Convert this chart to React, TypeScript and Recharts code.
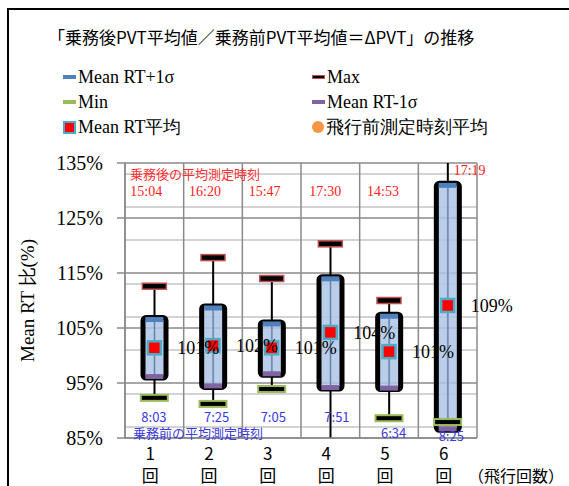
import React from 'react';
import {
  Bar,
  CartesianGrid,
  ComposedChart,
  LabelList,
  Line,
  ReferenceDot,
  XAxis,
  YAxis,
} from 'recharts';

// flight number (1..6 回)
const FLIGHTS = [1, 2, 3, 4, 5, 6];
const MAX_RT = [112.6, 117.8, 114.0, 120.3, 110.0, 140.0];
const PLUS_1SD = [106.9, 109.0, 106.1, 114.3, 107.5, 131.3];
const MEAN_RT = [101.4, 101.8, 101.4, 104.2, 100.7, 109.1];
const MINUS_1SD = [95.9, 94.2, 96.4, 93.9, 93.8, 86.4];
const MIN_RT = [92.3, 91.2, 93.9, 80.0, 88.6, 87.9];
const AFTER_TIMES = ['15:04', '16:20', '15:47', '17:30', '14:53', '17:19'];
const BEFORE_TIMES = ['8:03', '7:25', '7:05', '7:51', '6:34', '8:25'];

const Y_TICKS = [85, 95, 105, 115, 125, 135];
const MINOR_GRID = [87, 89, 91, 93, 97, 99, 101, 103, 107, 109, 111, 113, 117, 119, 121, 123, 127, 129, 131, 133];
const BOUNDARIES = [0.5, 1.5, 2.5, 3.5, 4.5, 5.5, 6.5];

// label nudges (px) so time labels sit like the original
const AFTER_NUDGE = [[-24, 33], [-24, 33], [-23, 33], [-21, 33], [-22, 33], [6, 12]];
const BEFORE_NUDGE = [[-13, -16], [-9, -16], [-11, -16], [-6, -16], [-8, 0], [-9, 3]];

const data = FLIGHTS.map((n, i) => ({
  n,
  max: MAX_RT[i],
  plus: PLUS_1SD[i],
  mean: MEAN_RT[i],
  minus: MINUS_1SD[i],
  min: MIN_RT[i],
}));

const SERIF = "'Liberation Serif', 'DejaVu Serif', serif";
const GOTHIC = "'Noto Sans CJK JP', 'Noto Sans', sans-serif";
const GRID_DARK = '#8a8a8a';

const BLUE = '#4f81bd';
const RED = '#c0504d';
const GREEN = '#9bbb59';
const PURPLE = '#8064a2';
const TEAL = '#4bacc6';
const ORANGE = '#f79646';

const LEGEND = [
  { name: 'Mean RT+1σ', icon: 'blue', col: 0, row: 0 },
  { name: 'Max', icon: 'max', col: 1, row: 0 },
  { name: 'Min', icon: 'min', col: 0, row: 1 },
  { name: 'Mean RT-1σ', icon: 'purple', col: 1, row: 1 },
  { name: 'Mean RT平均', icon: 'mean', col: 0, row: 2 },
  { name: '飛行前測定時刻平均', icon: 'orange', col: 1, row: 2 },
];

function LegendIcon({ kind }: { kind: string }) {
  if (kind === 'mean')
    return <span style={{ display: 'inline-block', width: 9, height: 9, background: '#ff0000', border: `2px solid ${TEAL}` }} />;
  if (kind === 'orange')
    return <span style={{ display: 'inline-block', width: 12, height: 12, borderRadius: 6, background: ORANGE }} />;
  const color = kind === 'blue' ? BLUE : kind === 'purple' ? PURPLE : kind === 'min' ? GREEN : RED;
  if (kind === 'max')
    return <span style={{ display: 'inline-block', width: 11, height: 2, background: '#000', border: `1px solid ${RED}` }} />;
  return <span style={{ display: 'inline-block', width: 13, height: 4, background: color }} />;
}

const Whisker = (p: any) => {
  const top = Math.min(p.y, p.y + p.height);
  const h = Math.abs(p.height);
  const cx = p.x + p.width / 2;
  return <line x1={cx} x2={cx} y1={top} y2={top + h} stroke="#000" strokeWidth={2} />;
};

const BoxShape = (p: any) => {
  const top = Math.min(p.y, p.y + p.height);
  const h = Math.abs(p.height);
  const cx = p.x + p.width / 2;
  return (
    <g>
      <rect x={p.x} y={top} width={p.width} height={h} rx={3} fill="#aec6e6" fillOpacity={0.85} stroke="#000" strokeWidth={5} />
      <line x1={cx} x2={cx} y1={top + 3} y2={top + h - 3} stroke="#5f82b0" strokeWidth={1} />
    </g>
  );
};

const barDot = (w: number, h: number, dy: number, fill: string, stroke?: string, sw = 0) => (p: any) => {
  if (p.cx == null || p.cy == null) return <g key={`d-${p.index}`} />;
  return (
    <rect
      key={`d-${p.index}`}
      x={p.cx - w / 2}
      y={p.cy + dy}
      width={w}
      height={h}
      fill={fill}
      stroke={stroke ?? 'none'}
      strokeWidth={sw}
    />
  );
};

const meanDot = (p: any) => (
  <rect key={`m-${p.index}`} x={p.cx - 6.5} y={p.cy - 6.5} width={13} height={13} fill="#ff0000" stroke={TEAL} strokeWidth={2.5} />
);

const XTick = (p: any) => (
  <text x={p.x - 4} textAnchor="middle" fontFamily={GOTHIC} fontSize={17} fill="#000">
    <tspan x={p.x - 4} y={p.y + 22}>{p.payload.value}</tspan>
    <tspan x={p.x - 4} y={p.y + 44}>回</tspan>
  </text>
);

const YTick = (p: any) => (
  <text x={p.x} y={p.y + 7} textAnchor="end" fontFamily={SERIF} fontSize={20} fill="#000">
    {`${p.payload.value}%`}
  </text>
);

const textLabel = (text: string, dx: number, dy: number, color: string, font: string, size: number) => ({
  content: (p: any) => (
    <text x={p.viewBox.x + dx} y={p.viewBox.y + dy} fill={color} fontFamily={font} fontSize={size} textAnchor="start">
      {text}
    </text>
  ),
});

export default function App() {
  return (
    <div style={{ position: 'relative', width: 569, height: 486, overflow: 'hidden', background: '#fff' }}>
      <style>{'body{margin:0}'}</style>
      <div
        style={{
          position: 'absolute',
          left: 7,
          top: 8,
          width: 700,
          height: 700,
          borderLeft: '2px solid #000',
          borderTop: '2px solid #000',
        }}
      />
      <div
        style={{
          position: 'absolute',
          left: 48,
          top: 27,
          lineHeight: '20px',
          fontFamily: GOTHIC,
          fontSize: 17,
          color: '#000',
          whiteSpace: 'nowrap',
        }}
      >
        「乗務後PVT平均値／乗務前PVT平均値＝ΔPVT」の推移
      </div>
      {LEGEND.map((it) => (
        <div
          key={it.name}
          style={{
            position: 'absolute',
            left: it.col === 0 ? 63 : 312,
            top: 65 + it.row * 25,
            height: 24,
            lineHeight: '24px',
            display: 'flex',
            alignItems: 'center',
            gap: 2,
            fontFamily: SERIF,
            fontSize: 18,
            whiteSpace: 'nowrap',
          }}
        >
          <LegendIcon kind={it.icon} />
          <span>{it.name}</span>
        </div>
      ))}
      <div style={{ position: 'absolute', left: 0, top: 0 }}>
        <ComposedChart width={569} height={486} data={data} margin={{ top: 163, right: 92, bottom: 0, left: 0 }}>
          <CartesianGrid xAxisId="a" horizontalValues={MINOR_GRID} vertical={false} stroke="#c4c4c4" strokeWidth={1.5} />
          <CartesianGrid
            xAxisId="a"
            horizontalValues={Y_TICKS}
            verticalValues={BOUNDARIES}
            stroke={GRID_DARK}
            strokeWidth={1.5}
          />
          <XAxis
            xAxisId="a"
            dataKey="n"
            type="number"
            domain={[0.5, 6.5]}
            ticks={FLIGHTS}
            height={48}
            tickSize={0}
            tickMargin={0}
            tickLine={false}
            axisLine={{ stroke: GRID_DARK, strokeWidth: 1.5 }}
            tick={<XTick />}
            interval={0}
            label={{
              content: (p: any) => (
                <text x={p.viewBox.x + p.viewBox.width - 9} y={p.viewBox.y + 44} fontFamily={GOTHIC} fontSize={16} fill="#000">
                  （飛行回数）
                </text>
              ),
            }}
          />
          <XAxis xAxisId="b" dataKey="n" type="number" domain={[0.5, 6.5]} hide />
          <YAxis
            type="number"
            domain={[85, 135]}
            ticks={Y_TICKS}
            allowDataOverflow
            width={125}
            tickSize={8}
            tickMargin={14}
            tick={<YTick />}
            tickLine={{ stroke: GRID_DARK, strokeWidth: 1.5 }}
            axisLine={{ stroke: GRID_DARK, strokeWidth: 1.5 }}
            label={{
              content: (p: any) => {
                const cy = p.viewBox.y + p.viewBox.height / 2;
                return (
                  <text
                    x={27}
                    y={cy}
                    transform={`rotate(-90 27 ${cy})`}
                    textAnchor="middle"
                    dominantBaseline="central"
                    fontFamily={SERIF}
                    fontSize={19}
                    fill="#000"
                  >
                    Mean RT 比(%)
                  </text>
                );
              },
            }}
          />
          <Bar
            xAxisId="b"
            dataKey={(d: any) => [d.min, d.max]}
            barSize={23}
            shape={Whisker}
            isAnimationActive={false}
            legendType="none"
          />
          <Bar
            xAxisId="a"
            dataKey={(d: any) => [d.minus, d.plus]}
            barSize={23}
            shape={BoxShape}
            isAnimationActive={false}
            legendType="none"
          />
          <Line xAxisId="a" dataKey="max" stroke="none" dot={barDot(24, 6, -3, '#000', RED, 1.5)} activeDot={false} isAnimationActive={false} />
          <Line xAxisId="a" dataKey="min" stroke="none" dot={barDot(27, 6, -3, '#000', GREEN, 2)} activeDot={false} isAnimationActive={false} />
          <Line xAxisId="a" dataKey="plus" stroke="none" dot={barDot(18, 5, -0.5, BLUE)} activeDot={false} isAnimationActive={false} />
          <Line xAxisId="a" dataKey="minus" stroke="none" dot={barDot(18, 5, -4, PURPLE)} activeDot={false} isAnimationActive={false} />
          <Line xAxisId="a" dataKey="mean" stroke="none" dot={meanDot} activeDot={false} isAnimationActive={false}>
            <LabelList
              dataKey="mean"
              position="right"
              offset={23}
              formatter={(v: any) => `${Math.round(Number(v))}%`}
              fill="#000"
              fontSize={18}
              fontFamily={SERIF}
            />
          </Line>
          <ReferenceDot
            xAxisId="a"
            x={0.5}
            y={135}
            r={0}
            fill="none"
            stroke="none"
            label={textLabel('乗務後の平均測定時刻', 5, 16, '#ff3030', GOTHIC, 13)}
          />
          <ReferenceDot
            xAxisId="a"
            x={0.5}
            y={85}
            r={0}
            fill="none"
            stroke="none"
            label={textLabel('乗務前の平均測定時刻', 8, 0, '#3a3adf', GOTHIC, 13)}
          />
          {FLIGHTS.map((n, i) => (
            <ReferenceDot
              key={`a-${n}`}
              xAxisId="a"
              x={n}
              y={135}
              r={0}
              fill="none"
              stroke="none"
              label={textLabel(AFTER_TIMES[i], AFTER_NUDGE[i][0], AFTER_NUDGE[i][1], '#ff2020', SERIF, 14)}
            />
          ))}
          {FLIGHTS.map((n, i) => (
            <ReferenceDot
              key={`b-${n}`}
              xAxisId="a"
              x={n}
              y={85}
              r={0}
              fill="none"
              stroke="none"
              label={textLabel(BEFORE_TIMES[i], BEFORE_NUDGE[i][0], BEFORE_NUDGE[i][1], '#3a3adf', GOTHIC, 13)}
            />
          ))}
        </ComposedChart>
      </div>
    </div>
  );
}
